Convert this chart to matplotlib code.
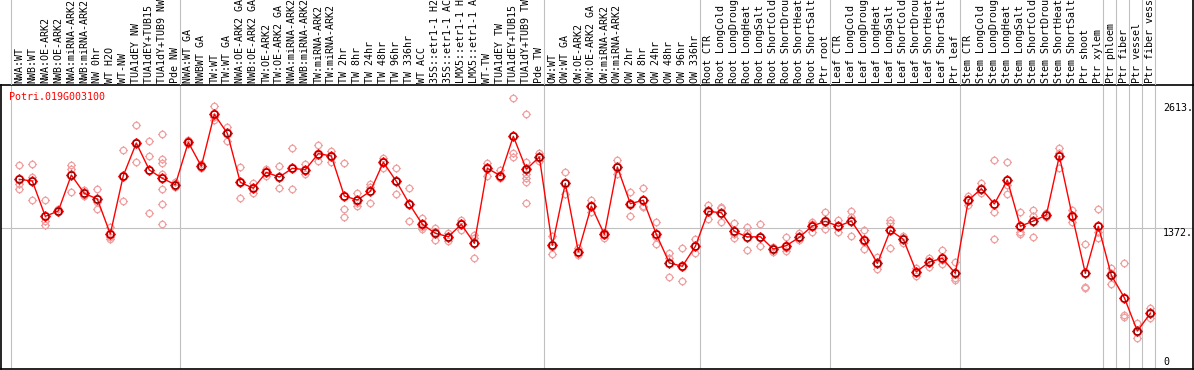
import matplotlib
matplotlib.use('Agg')
import matplotlib.pyplot as plt
from matplotlib.path import Path
from matplotlib.transforms import blended_transform_factory

# --- data ---
gene_id = 'Potri.019G003100'

sample_labels = [
    'NWA:WT', 'NWB:WT', 'NWA:OE-ARK2', 'NWB:OE-ARK2', 'NWA:miRNA-ARK2',
    'NWB:miRNA-ARK2', 'NW 0hr', 'WT H2O', 'WT-NW', 'TUA1dEY NW',
    'TUA1dEY+TUB15 NW', 'TUA1dY+TUB9 NW', 'Pde NW', 'NWA:WT GA', 'NWBWT GA',
    'TW:WT', 'TW:WT GA', 'NWA:OE-ARK2 GA', 'NWB:OE-ARK2 GA', 'TW:OE-ARK2',
    'TW:OE-ARK2 GA', 'NWA:miRNA-ARK2 GA', 'NWB:miRNA-ARK2 GA', 'TW:miRNA-ARK2',
    'TW:miRNA-ARK2 GA', 'TW 2hr', 'TW 8hr', 'TW 24hr', 'TW 48hr', 'TW 96hr',
    'TW 336hr', 'WT ACC', '35S::etr1-1 H2O', '35S::etr1-1 ACC',
    'LMX5::etr1-1 H2O', 'LMX5::etr1-1 ACC', 'WT-TW', 'TUA1dEY TW',
    'TUA1dEY+TUB15 TW', 'TUA1dY+TUB9 TW', 'Pde TW', 'OW:WT', 'OW:WT GA',
    'OW:OE-ARK2', 'OW:OE-ARK2 GA', 'OW:miRNA-ARK2', 'OW:miRNA-ARK2 GA',
    'OW 2hr', 'OW 8hr', 'OW 24hr', 'OW 48hr', 'OW 96hr', 'OW 336hr',
    'Root CTR', 'Root LongCold', 'Root LongDrought', 'Root LongHeat',
    'Root LongSalt', 'Root ShortCold', 'Root ShortDrought', 'Root ShortHeat',
    'Root ShortSalt', 'Ptr root', 'Leaf CTR', 'Leaf LongCold',
    'Leaf LongDrought', 'Leaf LongHeat', 'Leaf LongSalt', 'Leaf ShortCold',
    'Leaf ShortDrought', 'Leaf ShortHeat', 'Leaf ShortSalt', 'Ptr leaf',
    'Stem CTR', 'Stem LongCold', 'Stem LongDrought', 'Stem LongHeat',
    'Stem LongSalt', 'Stem ShortCold', 'Stem ShortDrought', 'Stem ShortHeat',
    'Stem ShortSalt', 'Ptr shoot', 'Ptr xylem', 'Ptr phloem', 'Ptr fiber',
    'Ptr vessel', 'Ptr fiber vessel',
]

mean_values = [
    1876, 1859, 1496, 1551, 1920, 1732, 1674, 1315, 1914, 2249,
    1972, 1887, 1821, 2256, 2010, 2544, 2349, 1845, 1784, 1948,
    1900, 1989, 1975, 2140, 2116, 1705, 1664, 1753, 2051, 1856,
    1623, 1414, 1322, 1287, 1414, 1219, 1989, 1914, 2318, 1979,
    2106, 1198, 1835, 1133, 1602, 1311, 2003, 1626, 1661, 1311,
    1017, 983, 1188, 1547, 1533, 1342, 1284, 1287, 1160, 1195,
    1281, 1397, 1445, 1394, 1448, 1250, 1013, 1353, 1260, 927,
    1027, 1065, 911, 1661, 1780, 1623, 1869, 1394, 1448, 1510,
    2116, 1496, 911, 1394, 890, 660, 318, 500,
]

replicate_values = [
    [2023, 1828, 1773], [2033, 1897, 1661], [1661, 1448, 1407],
    [1570, 1540, 1545], [2023, 1979, 1743], [1766, 1715, 1705],
    [1773, 1646, 1568], [1390, 1287, 1260], [2177, 1912, 1653],
    [2431, 2263, 2051], [2270, 2116, 1530],
    [2338, 2085, 2041, 1928, 1777, 1623, 1414],
    [1852, 1818, 1794], [2276, 2256, 2235], [2030, 2010, 1990],
    [2629, 2519, 2485], [2413, 2365, 2273], [2003, 1852, 1681],
    [1841, 1784, 1736], [1982, 1948, 1910], [2013, 1903, 1784],
    [2194, 1996, 1773], [2030, 1972, 1931], [2229, 2126, 2061],
    [2170, 2119, 2058], [2041, 1571, 1486], [1736, 1630, 1605],
    [1828, 1800, 1630], [2099, 2051, 1996], [1989, 1856, 1722],
    [1784, 1623, 1448], [1482, 1390, 1366], [1373, 1338, 1253],
    [1322, 1287, 1243], [1458, 1424, 1356], [1304, 1270, 1065],
    [2041, 2006, 1913], [1972, 1914, 1887], [2708, 2143, 2108],
    [2544, 2058, 1972, 1928, 1887, 1852, 1630],
    [2143, 2106, 2065], [1297, 1184, 1106], [1948, 1835, 1722],
    [1174, 1133, 1099], [1664, 1602, 1544], [1338, 1304, 1277],
    [2078, 2003, 1928], [1746, 1630, 1500], [1787, 1605, 1595],
    [1435, 1287, 1212], [1116, 1071, 870], [1171, 979, 829],
    [1266, 1188, 1116], [1612, 1544, 1472], [1595, 1578, 1438],
    [1431, 1311, 1270], [1383, 1322, 1147], [1417, 1287, 1188],
    [1184, 1160, 1133], [1281, 1167, 1143], [1322, 1281, 1253],
    [1435, 1414, 1332], [1541, 1435, 1366], [1455, 1394, 1332],
    [1551, 1493, 1294], [1353, 1236, 1157], [1082, 1003, 955],
    [1458, 1424, 1174], [1297, 1260, 1219], [969, 921, 886],
    [1072, 1024, 976], [1150, 1048, 1006], [1024, 866, 842],
    [1708, 1661, 1612], [1835, 1780, 1733], [2075, 1537, 1263],
    [2051, 1818, 1722], [1541, 1338, 1315], [1561, 1503, 1287],
    [1527, 1510, 1493], [2201, 2143, 1989], [1561, 1493, 1435],
    [1212, 773, 757], [1568, 1338, 1270], [962, 911, 798],
    [1013, 483, 459], [397, 311, 243], [558, 500, 449],
]

# gray separators are drawn right after these sample indices (-1 = left edge)
group_ends = [-1, 12, 40, 52, 62, 72, 83, 84, 85, 86, 87]

axis_marks = [2613, 1372, 0]
axis_mark_text = ['2613.', '1372.', '0']

# --- figure layout (pixel based) ---
W, H = 1194, 370
fig = plt.figure(figsize=(W / 100, H / 100), dpi=100)

x_lo, x_hi = -1.408, 90.28
y_lo, y_hi = -72, 2845

ax = fig.add_axes([1 / W, 1 / H, 1192 / W, 284 / H])
ax_lab = fig.add_axes([1 / W, 285 / H, 1192 / W, 85 / H])

mono = 'DejaVu Sans Mono'
grid_gray = '#c0c0c0'

# marker: circle with four little ticks, like the original bitmap glyph
circle = Path.unit_circle()
ticks = []
for dx, dy in [(1, 0), (-1, 0), (0, 1), (0, -1)]:
    ticks.append(Path([(dx * 1.0, dy * 1.0), (dx * 1.4, dy * 1.4)],
                      [Path.MOVETO, Path.LINETO]))
tick_circle = Path.make_compound_path(circle, *ticks)

# separators in both the plot and the label strip
for k in group_ends:
    ax.axvline(k + 0.38, color=grid_gray, lw=0.8, zorder=0)
    ax_lab.axvline(k + 0.38, color=grid_gray, lw=0.8, zorder=0)

ax.axhline(1372, color=grid_gray, lw=0.8, zorder=0)

# replicates
rep_x = []
rep_y = []
for i, reps in enumerate(replicate_values):
    for v in reps:
        rep_x.append(i)
        rep_y.append(v)
ax.plot(rep_x, rep_y, linestyle='none', marker=tick_circle, ms=6.4,
        mfc='none', mec='#f0a0a0', mew=0.9, zorder=2)

# mean line + markers
xs = list(range(len(mean_values)))
ax.plot(xs, mean_values, color='red', lw=1, zorder=3)
ax.plot(xs, mean_values, linestyle='none', marker=tick_circle, ms=7.6,
        mfc='none', mec='red', mew=1.2, zorder=4)
ax.plot(xs, mean_values, linestyle='none', marker='o', ms=4.8,
        mfc='none', mec='#500000', mew=0.5, zorder=5)

ax.set_xlim(x_lo, x_hi)
ax.set_ylim(y_lo, y_hi)
ax.set_xticks([])
ax.set_yticks([])
for s in ax.spines.values():
    s.set_linewidth(1.2)
    s.set_color('black')

ax.text(0.007, 0.957, gene_id, transform=ax.transAxes, color='red',
        fontfamily=mono, fontsize=7.2, ha='left', va='center')

# right side value marks
yt = blended_transform_factory(ax.transAxes, ax.transData)
for v, t in zip(axis_marks, axis_mark_text):
    va = 'top' if v == 1372 else 'center'
    ax.text(0.9748, v, t, transform=yt, fontfamily=mono, fontsize=7.2,
            ha='left', va=va, color='black')

# sample labels strip
ax_lab.set_xlim(x_lo, x_hi)
ax_lab.set_ylim(0, 1)
ax_lab.set_xticks([])
ax_lab.set_yticks([])
for side in ['top', 'left', 'bottom']:
    ax_lab.spines[side].set_visible(False)
ax_lab.spines['right'].set_linewidth(1.2)
ax_lab.patch.set_alpha(0)

for i, lab in enumerate(sample_labels):
    ax_lab.text(i, 0.0235, lab, rotation=90, ha='center', va='bottom',
                fontfamily=mono, fontsize=7.2, color='black')

fig.savefig('out.png', dpi=100)
